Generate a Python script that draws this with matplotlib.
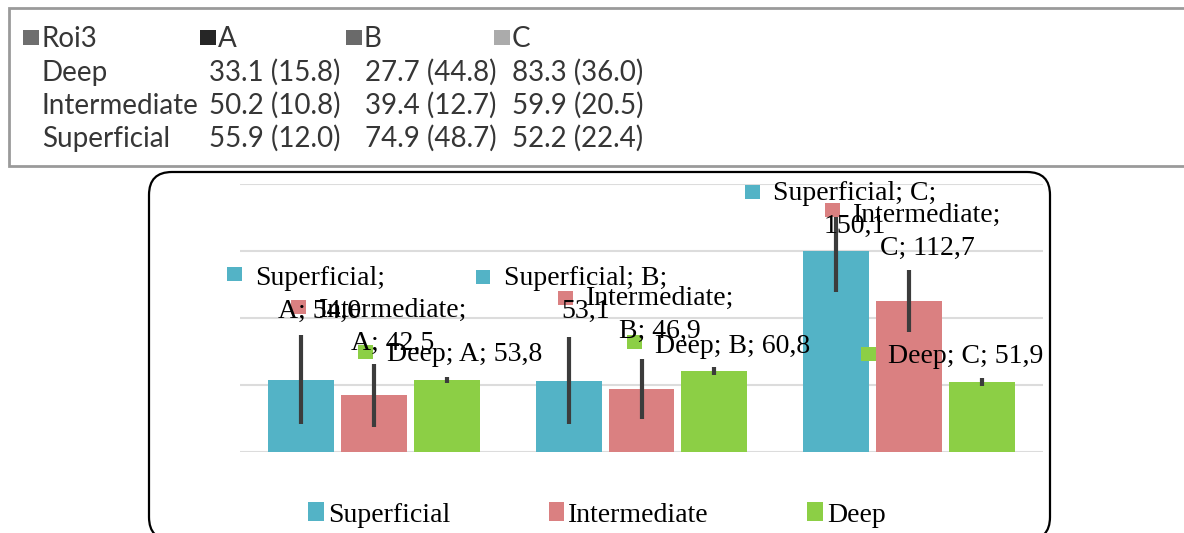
import matplotlib
matplotlib.use("Agg")
import matplotlib.pyplot as plt
from matplotlib.patches import FancyBboxPatch, Rectangle, Patch
import numpy as np

# chart data
categories = ["A", "B", "C"]
series = ["Superficial", "Intermediate", "Deep"]
means = {
    "Superficial": [54.0, 53.1, 150.1],
    "Intermediate": [42.5, 46.9, 112.7],
    "Deep": [53.8, 60.8, 51.9],
}
errors = {
    "Superficial": [33.0, 32.5, 31.0],
    "Intermediate": [23.5, 22.5, 23.0],
    "Deep": [2.0, 3.0, 3.0],
}
colors = {"Superficial": "#53b3c6", "Intermediate": "#da8081", "Deep": "#8ccf45"}

# summary table above the chart: mean (sd)
table_rows = ["Deep", "Intermediate", "Superficial"]
table_vals = [
    ["33.1 (15.8)", "27.7 (44.8)", "83.3 (36.0)"],
    ["50.2 (10.8)", "39.4 (12.7)", "59.9 (20.5)"],
    ["55.9 (12.0)", "74.9 (48.7)", "52.2 (22.4)"],
]
table_head = ["Roi3", "A", "B", "C"]
head_colors = ["#6e6e6e", "#262626", "#6a6a6a", "#ababab"]

W, H = 1184, 533
fig = plt.figure(figsize=(W / 100, H / 100), dpi=100)
inch = fig.dpi_scale_trans


def fx(x):
    return x / W


def fy(y):
    return 1 - y / H


# --- table panel ---
fig.patches.append(FancyBboxPatch((9 / 100, (H - 166) / 100), 1200 / 100, 158 / 100,
                                  boxstyle="square,pad=0", transform=inch,
                                  fc="white", ec="#9a9a9a", lw=2, zorder=-2))
head_x = [23, 200, 346, 494]
for x, name, c in zip(head_x, table_head, head_colors):
    fig.patches.append(Rectangle((x / 100, (H - 45) / 100), 0.16, 0.15,
                                 transform=inch, fc=c, ec="none"))
    fig.text(fx(x + 18), fy(47), name, family="Lato", fontsize=20,
             color="#363636", va="baseline")
row_y = [81, 114, 147]
col_x = [209, 365, 512]
for i, rname in enumerate(table_rows):
    fig.text(fx(42), fy(row_y[i]), rname, family="Lato", fontsize=20,
             color="#363636", va="baseline")
    for j in range(3):
        fig.text(fx(col_x[j]), fy(row_y[i]), table_vals[i][j], family="Lato",
                 fontsize=20, color="#363636", va="baseline")

# --- chart panel ---
fig.patches.append(FancyBboxPatch((149 / 100, (H - 540) / 100), 901 / 100, 368 / 100,
                                  boxstyle="round,pad=0,rounding_size=0.23",
                                  transform=inch, fc="white", ec="black", lw=1.6,
                                  zorder=-2))

ax = fig.add_axes([fx(240), fy(452), fx(1043) - fx(240), fy(184) - fy(452)])
ax.set_xlim(-0.5, 2.5)
ax.set_ylim(0, 200)
ax.set_yticks([0, 50, 100, 150, 200])
ax.yaxis.grid(True, color="#dcdcdc", lw=1.5)
ax.set_axisbelow(True)
for s in ax.spines.values():
    s.set_visible(False)
ax.tick_params(left=False, bottom=False, labelleft=False, labelbottom=False)
ax.patch.set_alpha(0)

x = np.arange(len(categories))
step, width = 0.272, 0.246
for k, s in enumerate(series):
    pos = x + (k - 1) * step
    ax.bar(pos, means[s], width, color=colors[s], zorder=2)
    ax.errorbar(pos, means[s], yerr=errors[s], fmt="none", ecolor="#3c3c3c",
                elinewidth=3, capsize=0, zorder=3)

# data labels: (marker x, marker y, text x, last-line baseline y, line break after part n)
label_layout = {
    ("Superficial", 0): (234, 274, 320, 318, 1),
    ("Intermediate", 0): (298, 307, 393, 350, 1),
    ("Deep", 0): (365, 352, 387, 361, 0),
    ("Superficial", 1): (483, 277, 586, 318, 2),
    ("Intermediate", 1): (565, 298, 660, 338, 1),
    ("Deep", 1): (634, 342, 655, 353, 0),
    ("Superficial", 2): (752, 192, 855, 233, 2),
    ("Intermediate", 2): (832, 210, 927, 255, 1),
    ("Deep", 2): (868, 354, 888, 363, 0),
}
for (s, j), (mx, my, tx, ty, brk) in label_layout.items():
    parts = [f"{s};", f"{categories[j]};", f"{means[s][j]:.1f}".replace(".", ",")]
    if brk:
        txt = " ".join(parts[:brk]) + "\n" + " ".join(parts[brk:])
        ha = "center"
    else:
        txt = " ".join(parts)
        ha = "left"
    fig.patches.append(Rectangle(((mx - 7) / 100, (H - my - 7) / 100), 0.145, 0.145,
                                 transform=inch, fc=colors[s], ec="none", zorder=4))
    fig.text(fx(tx), fy(ty), txt, family="Liberation Serif", fontsize=20,
             ha=ha, va="baseline", multialignment="center", linespacing=1.42,
             zorder=5)

handles = [Patch(fc=colors[s], ec="none", label=s) for s in series]
fig.legend(handles=handles, loc="center", bbox_to_anchor=(fx(597), fy(515)),
           ncol=3, frameon=False, prop={"family": "Liberation Serif", "size": 20},
           handlelength=0.55, handleheight=0.65, handletextpad=0.15,
           columnspacing=3.55)

fig.savefig("out.png", dpi=100)
